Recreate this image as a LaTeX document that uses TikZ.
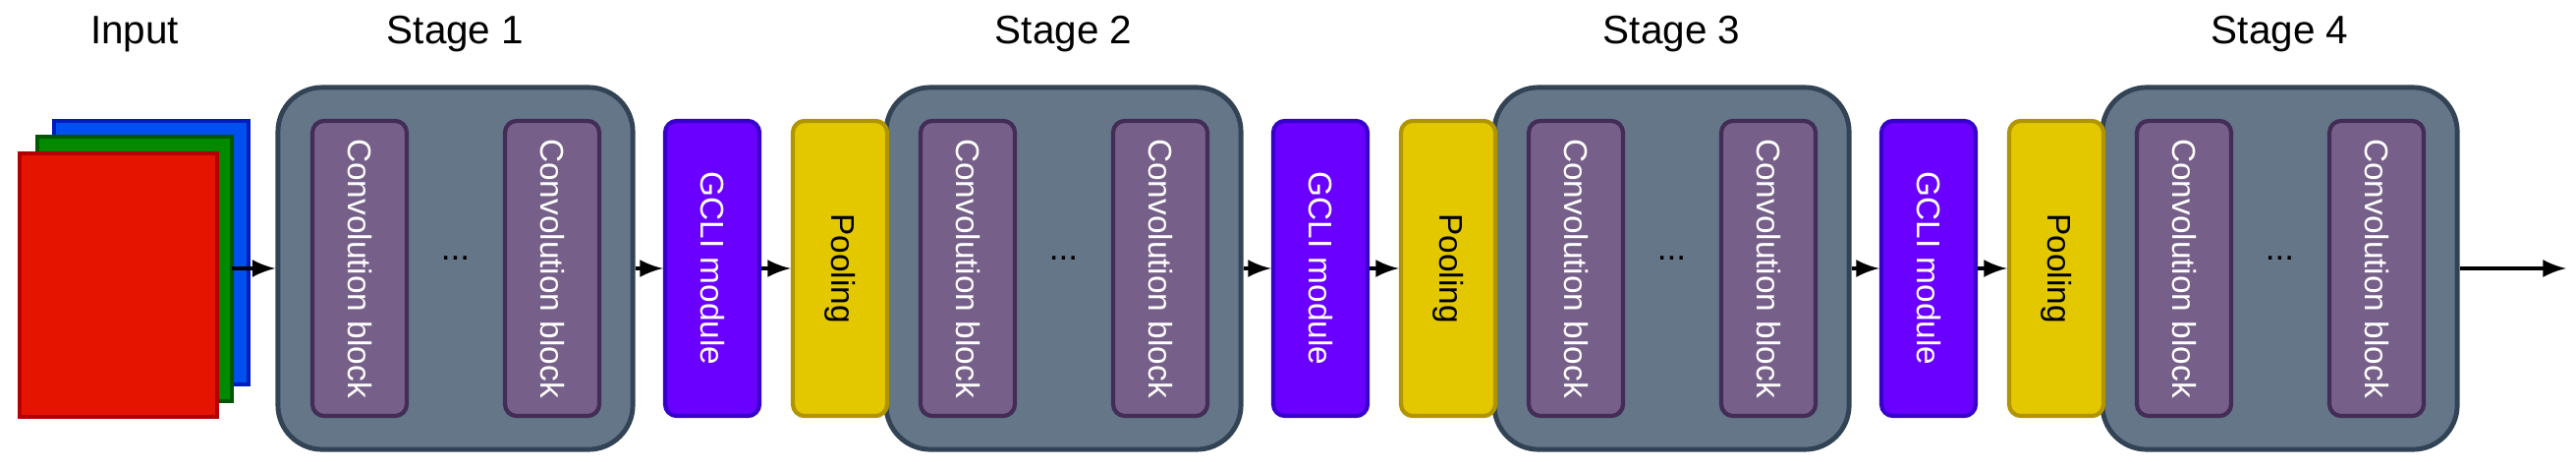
\documentclass[tikz,border=0pt]{standalone}
\usepackage{fontspec}
\setmainfont{Liberation Sans}
\usetikzlibrary{positioning}
\definecolor{stagefill}{HTML}{647687}\definecolor{stageline}{HTML}{314354}
\definecolor{convfill}{HTML}{76608A}\definecolor{convline}{HTML}{432D57}
\definecolor{gclifill}{HTML}{6A00FF}\definecolor{gcliline}{HTML}{3700CC}
\definecolor{poolfill}{HTML}{E3C800}\definecolor{poolline}{HTML}{B09500}
\tikzset{
    stage/.style={draw=stageline, fill=stagefill, line width=1.4pt, rounded corners=0.45cm,
        minimum width=3.61cm, minimum height=3.68cm},
    conv/.style={draw=convline, fill=convfill, line width=1.2pt, rounded corners=0.12cm, rotate=-90,
        minimum width=3cm, minimum height=0.96cm, text=white, font=\fontsize{9.5}{11}\selectfont},
    gcli/.style={conv, draw=gcliline, fill=gclifill},
    pool/.style={conv, draw=poolline, fill=poolfill, text=black},
    title/.style={font=\fontsize{11.5}{13}\selectfont},
    flow/.style={-latex, line width=1.3pt}
}
\begin{document}
\begin{tikzpicture}[x=0.01cm, y=-0.01cm]
    \useasboundingbox (0,0) rectangle (2622,475);
    % Input
    \draw[line width=1.2pt, draw={rgb,255:red,0;green,29;blue,188}, fill={rgb,255:red,0;green,80;blue,239}] (55,123) rectangle (253,391);
    \draw[line width=1.2pt, draw={rgb,255:red,0;green,87;blue,0}, fill={rgb,255:red,0;green,138;blue,0}] (38,139) rectangle (236,408);
    \draw[line width=1.2pt, draw={rgb,255:red,178;green,0;blue,0}, fill={rgb,255:red,229;green,20;blue,0}] (20,156) rectangle (221,424);
    \coordinate (in) at (236,273);
    \node[title] (intitle) at (137,35) {Input};
    % Stages
    \foreach \i in {1,...,4} {
        \pgfmathsetmacro{\sx}{283+(\i-1)*619}
        \node[stage] (s\i) at (\sx+180.5,273) {};
        \node[conv] (ca\i) at (\sx+83,273) {Convolution block};
        \node[conv] (cb\i) at (\sx+279,273) {Convolution block};
        \node (dots\i) at (\sx+180.5,263) {...};
        \node[title] (t\i) at (\sx+180.5,35) {Stage \i};
    }
    % GCLI + Pooling
    \foreach \i in {1,2,3} {
        \pgfmathsetmacro{\gx}{725+(\i-1)*619}
        \node[gcli] (g\i) at (\gx,273) {GCLI module};
        \node[pool] (p\i) at (\gx+130,273) {Pooling};
        \draw[flow] (s\i.east) -- (g\i.south);
        \draw[flow] (g\i.north) -- (p\i.south);
    }
    \coordinate (out) at (2612,273);
    \draw[flow] (in) -- (s1.west);
    \draw[flow] (s4.east) -- (out);
\end{tikzpicture}
\end{document}
